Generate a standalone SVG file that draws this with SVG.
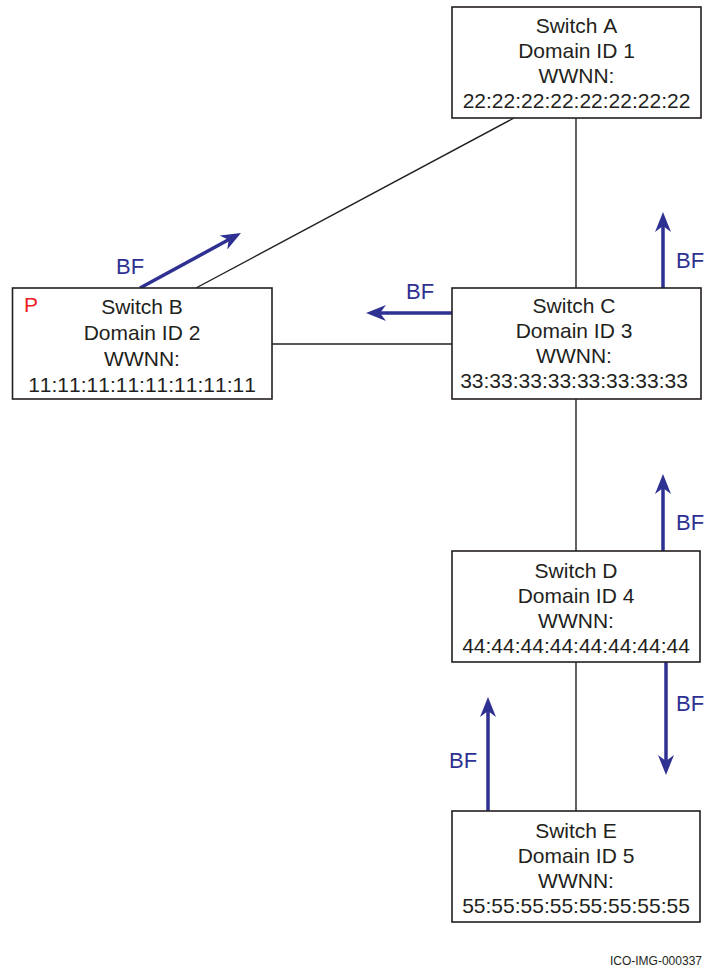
<svg xmlns="http://www.w3.org/2000/svg" width="707" height="969" viewBox="0 0 707 969">
<defs>
<style>
.box{fill:#fff;stroke:#231f20;stroke-width:1.6}
.t{font-family:"Liberation Sans",Arial,sans-serif;font-size:21px;fill:#231f20;text-anchor:middle;font-kerning:none}
.link{stroke:#231f20;stroke-width:1.4;fill:none}
.bf{stroke:#2e3192;stroke-width:3.5;fill:none;marker-end:url(#ah)}
.bft{font-family:"Liberation Sans",Arial,sans-serif;font-size:22px;fill:#2e3192}
</style>
<marker id="ah" markerUnits="userSpaceOnUse" markerWidth="20" markerHeight="16" viewBox="0 0 20 16" refX="10" refY="8" orient="auto">
<path d="M0,0 L20,8 L0,16 L6,8 Z" fill="#2e3192"/>
</marker>
</defs>
<rect width="707" height="969" fill="#fff"/>
<g id="connectors">
<line class="link" x1="514" y1="118" x2="196" y2="288"/>
<line class="link" x1="576" y1="118" x2="576" y2="288"/>
<line class="link" x1="272" y1="344" x2="452" y2="344"/>
<line class="link" x1="576" y1="399" x2="576" y2="551"/>
<line class="link" x1="576" y1="662" x2="576" y2="811"/>
<line class="bf" x1="140" y1="288" x2="232.2" y2="237.8"/>
<line class="bf" x1="663" y1="288" x2="663" y2="222"/>
<line class="bf" x1="452" y1="313" x2="376" y2="313"/>
<line class="bf" x1="663" y1="551" x2="663" y2="484"/>
<line class="bf" x1="666" y1="662" x2="666" y2="765"/>
<line class="bf" x1="488" y1="811" x2="488" y2="707"/>
<text class="bft" x="116" y="274">BF</text>
<text class="bft" x="676" y="268">BF</text>
<text class="bft" x="406" y="299">BF</text>
<text class="bft" x="676" y="530">BF</text>
<text class="bft" x="676" y="711">BF</text>
<text class="bft" x="449" y="768">BF</text>
</g>
<g id="switchA">
<rect class="box" x="452" y="7" width="249" height="111"/>
<text class="t" x="576.5" y="33">Switch A</text>
<text class="t" x="576.5" y="58">Domain ID 1</text>
<text class="t" x="576.5" y="83">WWNN:</text>
<text class="t" x="576.5" y="108">22:22:22:22:22:22:22:22</text>
</g>
<g id="switchB">
<rect class="box" x="12.5" y="288" width="259.5" height="111"/>
<text x="24" y="312" style="font-family:'Liberation Sans',Arial,sans-serif;font-size:21px;fill:#ed1c24">P</text>
<text class="t" x="142" y="314">Switch B</text>
<text class="t" x="142" y="340">Domain ID 2</text>
<text class="t" x="142" y="366">WWNN:</text>
<text class="t" x="142" y="392">11:11:11:11:11:11:11:11</text>
</g>
<g id="switchC">
<rect class="box" x="452" y="288" width="249" height="111"/>
<text class="t" x="574" y="313">Switch C</text>
<text class="t" x="574" y="338">Domain ID 3</text>
<text class="t" x="574" y="363">WWNN:</text>
<text class="t" x="574" y="388">33:33:33:33:33:33:33:33</text>
</g>
<g id="switchD">
<rect class="box" x="452" y="551" width="248" height="111"/>
<text class="t" x="576" y="578">Switch D</text>
<text class="t" x="576" y="603">Domain ID 4</text>
<text class="t" x="576" y="628">WWNN:</text>
<text class="t" x="576" y="653">44:44:44:44:44:44:44:44</text>
</g>
<g id="switchE">
<rect class="box" x="452" y="811" width="248" height="111"/>
<text class="t" x="576" y="838">Switch E</text>
<text class="t" x="576" y="863">Domain ID 5</text>
<text class="t" x="576" y="888">WWNN:</text>
<text class="t" x="576" y="913">55:55:55:55:55:55:55:55</text>
</g>
<text x="702" y="965" style="font-family:'Liberation Sans',Arial,sans-serif;font-size:12px;fill:#231f20;text-anchor:end">ICO-IMG-000337</text>
</svg>
